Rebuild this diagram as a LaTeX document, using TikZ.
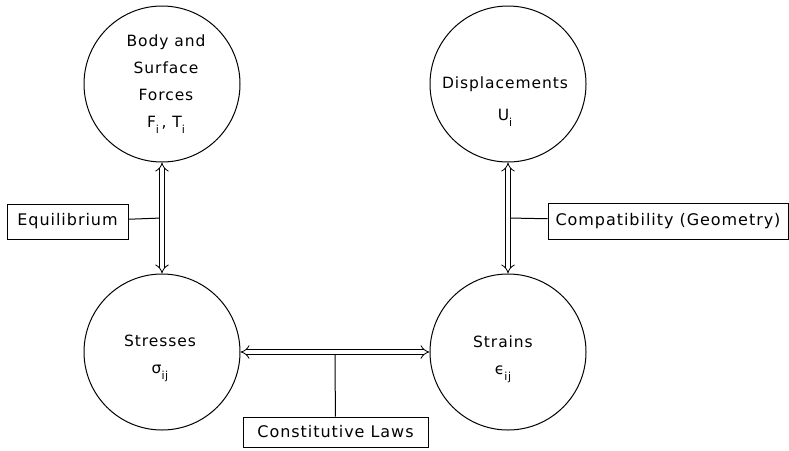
\documentclass[tikz,border=0pt]{standalone}
\usepackage{fontspec}
\setmainfont{DejaVu Sans}[LetterSpace=6]
\usetikzlibrary{arrows.meta}
\newcommand{\lowidx}[1]{\raisebox{-0.4em}{\fontsize{11}{11}\selectfont #1}}

\begin{document}
\begin{tikzpicture}
            [x=1pt, y=-1pt, line width=1pt,
             state/.style={shape=circle, draw=black, minimum size=156pt, inner sep=0pt},
             statetext/.style={align=center, font=\fontsize{15.5}{27}\selectfont},
             lawbox/.style={shape=rectangle, draw=black, inner sep=0pt, font=\fontsize{16}{20}\selectfont},
             twoway/.style={draw, double, double distance=4pt, line width=0.8pt, {Implies[scale=1.3]}-{Implies[scale=1.3]}}]
            \useasboundingbox (0,0) rectangle (789,450);

            \node[state] (forces) at (162, 84) {};
            \node[statetext] (forcestext) at (166, 84) {Body and\\Surface\\Forces\\F\lowidx{i}\,, T\lowidx{i}};
            \node[state] (displ) at (508, 84) {};
            \node[statetext] (displtext) at (505, 102) {Displacements\\[5pt]U\lowidx{i}};
            \node[state] (stresses) at (162, 352) {};
            \node[statetext] (stressestext) at (160, 358) {Stresses\\σ\lowidx{ij}};
            \node[state] (strains) at (508, 352) {};
            \node[statetext] (strainstext) at (503, 359) {Strains\\ϵ\lowidx{ij}};

            \node[lawbox, minimum width=121pt, minimum height=35pt] (equil) at (67.5, 221.5) {Equilibrium};
            \node[lawbox, minimum width=240pt, minimum height=36pt] (compat) at (668, 221) {Compatibility (Geometry)};
            \node[lawbox, minimum width=185pt, minimum height=30pt] (constit) at (335.5, 432) {Constitutive Laws};

            \coordinate (equiljoin) at (162, 218);
            \coordinate (compatjoin) at (508, 218);
            \coordinate (constitjoin) at (335, 352);

            \draw (equil) -- (equiljoin);
            \draw (compat) -- (compatjoin);
            \draw (constit) -- (constitjoin);

            \draw [twoway] (forces) -- (stresses);
            \draw [twoway] (displ) -- (strains);
            \draw [twoway] (stresses) -- (strains);
        \end{tikzpicture}
\end{document}
